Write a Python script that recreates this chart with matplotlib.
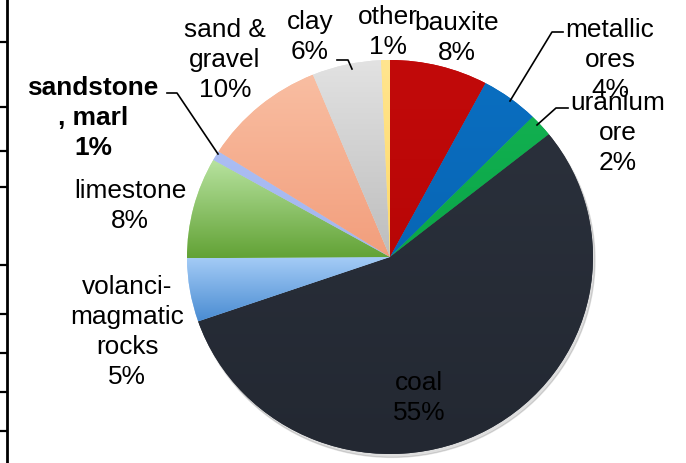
import numpy as np
import matplotlib
matplotlib.use("Agg")
import matplotlib.pyplot as plt
from matplotlib.colors import LinearSegmentedColormap

plt.rcParams['font.family'] = ['Liberation Sans', 'DejaVu Sans']

# ---- data ----
categories = ["bauxite", "metallic ores", "uranium ore", "coal", "volanci-magmatic rocks",
              "limestone", "sandstone, marl", "sand & gravel", "clay", "other"]
values = [7.8, 4.6, 1.9, 55.4, 5.2, 8.3, 0.8, 9.8, 5.5, 0.7]
label_texts = ["bauxite\n8%", "metallic\nores\n4%", "uranium\nore\n2%", "coal\n55%",
               "volanci-\nmagmatic\nrocks\n5%", "limestone\n8%", "sandstone\n, marl\n1%",
               "sand &\ngravel\n10%", "clay\n6%", "other\n1%"]
# gradient colours (top, bottom) per slice
colors_top = ["#C20A0A", "#0A6EC0", "#12B050", "#2A303B", "#A6CDF7", "#B8E3A0",
              "#ABBDF3", "#F9BEA2", "#E2E2E2", "#FFE58F"]
colors_bot = ["#B80606", "#0866B5", "#0AA648", "#232832", "#4A8CD2", "#62A235",
              "#A3B6EE", "#F29E7C", "#BDBDBD", "#FFD966"]
left_tick_px = [43, 108, 152, 188, 266, 315, 354, 393, 432]

W, H = 686, 464
SY = 197 / 203.0  # vertical squash of the pie (pixels per data unit in y)

fig = plt.figure(figsize=(W / 100, H / 100), dpi=100)
ax = fig.add_axes([0, 0, 1, 1])

def setlims():
    ax.set_xlim(0, W)
    ax.set_ylim(0, H / SY)
    ax.set_aspect('auto')
    ax.axis('off')

def Y(ypx):
    return (H - ypx) / SY

cx, cy, R = 390, Y(258), 203

# faint shadow
shadow = plt.Circle((cx + 2, cy - 3.5), R, color="#000000", alpha=0.13, zorder=0.5)
ax.add_patch(shadow)

wedges, _ = ax.pie(values, startangle=90, counterclock=False, radius=R,
                   center=(cx, cy), colors=colors_top, frame=True,
                   wedgeprops=dict(linewidth=0))
setlims()

# gradient fill per wedge
for w, ct, cb in zip(wedges, colors_top, colors_bot):
    cmap = LinearSegmentedColormap.from_list("g", [cb, ct])
    bb = w.get_path().get_extents()
    grad = np.linspace(0, 1, 256).reshape(-1, 1)
    im = ax.imshow(grad, extent=[bb.x0, bb.x1, bb.y0, bb.y1], origin='lower',
                   cmap=cmap, aspect='auto', zorder=w.get_zorder() + 0.1,
                   interpolation='bilinear')
    im.set_clip_path(w)
setlims()

fs = 18.9
ls = 1.3
def lab(x, y, s, bold=False):
    ax.text(x, Y(y), s, ha='center', va='center', fontsize=fs, linespacing=ls,
            color='black', fontweight='bold' if bold else 'normal', zorder=10)

pos = [(457, 38), (610, 60), (618, 133), (419, 398), (127, 332), (130, 206),
       (93, 118), (225, 60), (310, 37), (388, 32)]
for i, (t, p) in enumerate(zip(label_texts, pos)):
    lab(p[0], p[1], t, bold=(i == 6))

# leader lines (pixel coords)
leaders = [
    [(563, 33), (552, 33), (510, 102)],
    [(568, 109), (556, 109), (537, 126)],
    [(167, 94), (177, 94), (218, 155)],
    [(337, 61), (348, 61), (352, 70)],
]
for ln in leaders:
    xs = [p[0] for p in ln]
    ys = [Y(p[1]) for p in ln]
    ax.plot(xs, ys, color='black', lw=1.2, zorder=9)

# left cropped axis
ax2 = fig.add_axes([7 / W, 0, 0.05, 1])
ax2.set_ylim(H, 0)
ax2.set_xlim(0, 1)
ax2.patch.set_visible(False)
for s in ['top', 'right', 'bottom']:
    ax2.spines[s].set_visible(False)
ax2.spines['left'].set_linewidth(2.0)
ax2.set_xticks([])
ax2.set_yticks(left_tick_px)
ax2.set_yticklabels([])
ax2.tick_params(axis='y', direction='out', length=5.2, width=1.6)

fig.savefig("out.png", dpi=100)
